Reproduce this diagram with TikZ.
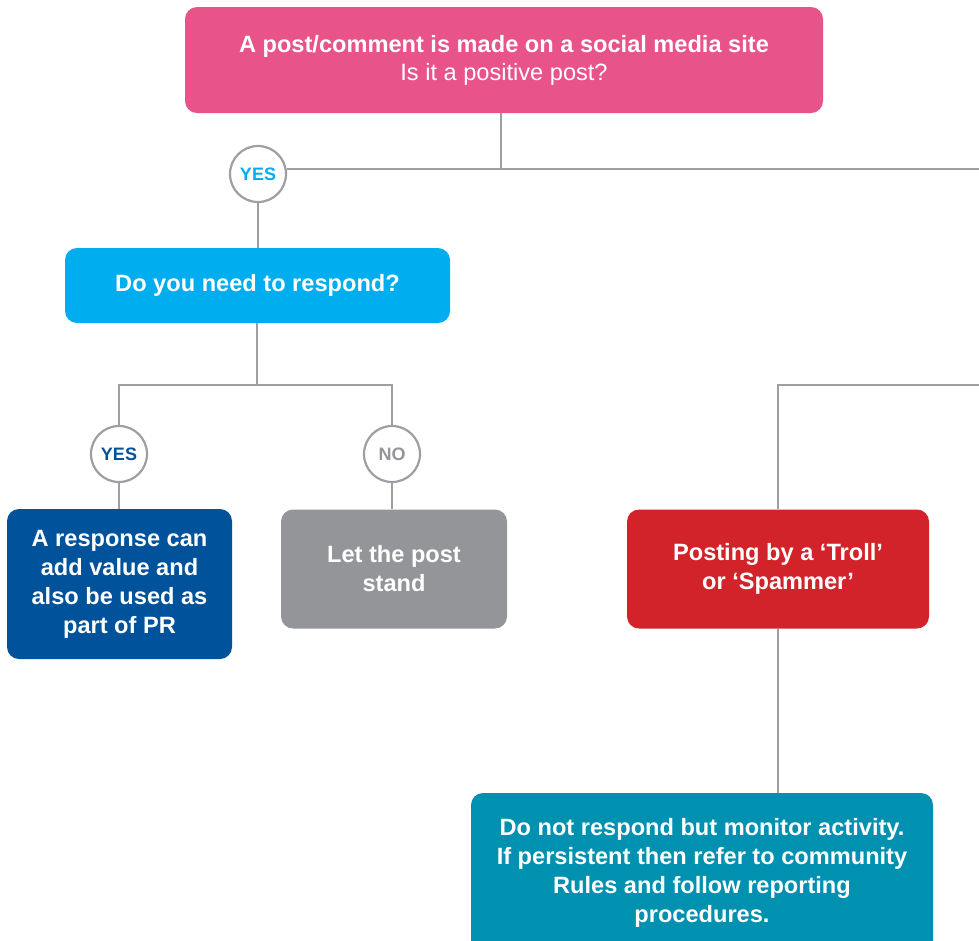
\documentclass[tikz,border=0pt]{standalone}
\usepackage{fontspec}
\setmainfont{Liberation Sans}
\definecolor{cpink}{HTML}{E8538A}
\definecolor{ccyan}{HTML}{00AEEF}
\definecolor{cnavy}{HTML}{00529B}
\definecolor{cgrey}{HTML}{939598}
\definecolor{cred}{HTML}{D2232A}
\definecolor{cteal}{HTML}{0090B0}
\definecolor{cline}{HTML}{9D9FA2}
\begin{document}
\begin{tikzpicture}[x=1pt,y=-1pt,
  box/.style={rounded corners=12pt, text=white, align=center, inner sep=0pt,
    font=\fontsize{23.6}{29}\selectfont\bfseries},
  circ/.style={circle, draw=cline, line width=2.2pt, fill=white, minimum size=56pt, inner sep=0pt,
    font=\fontsize{18}{20}\selectfont\bfseries},
  conn/.style={draw=cline, line width=2.4pt}]
\useasboundingbox (0,0) rectangle (979,940);
\clip (0,0) rectangle (979,940);
% boxes
\node[box, fill=cpink, minimum width=638pt, minimum height=106pt] (top) at (504,60)
  {A post/comment is made on a social media site\\[-1pt]{\mdseries Is it a positive post?}};
\node[box, fill=ccyan, minimum width=385pt, minimum height=75pt] (resp) at (257.5,285.5)
  {Do you need to respond?};
\node[box, fill=cnavy, minimum width=225pt, minimum height=150pt] (add) at (119.5,584)
  {A response can\\add value and\\also be used as\\part of PR};
\node[box, fill=cgrey, minimum width=226pt, minimum height=119pt] (let) at (394,569)
  {Let the post\\stand};
\node[box, fill=cred, minimum width=302pt, minimum height=119pt] (troll) at (778,569)
  {Posting by a ‘Troll’\\or ‘Spammer’};
\node[box, fill=cteal, minimum width=462pt, minimum height=160pt] (mon) at (702,873)
  {Do not respond but monitor activity.\\If persistent then refer to community\\Rules and follow reporting\\procedures.};
% circles
\node[circ, text=ccyan] (y1) at (258,174) {YES};
\node[circ, text=cnavy] (y2) at (119,454) {YES};
\node[circ, text=cgrey] (n2) at (392,454) {NO};
% junctions and free ends
\coordinate (j1) at (501,169);
\coordinate (j2) at (257,385);
\coordinate (r1) at (985,169);
\coordinate (r2) at (985,385);
% connectors
\draw[conn] (j1 |- top.south) -- (j1);
\draw[conn] (y1.east |- j1) -- (r1);
\draw[conn] (y1.south) -- (y1.south |- resp.north);
\draw[conn] (j2 |- resp.south) -- (j2);
\draw[conn] (y2.north) -- (y2.north |- j2) -- (n2.north |- j2) -- (n2.north);
\draw[conn] (y2.south) -- (y2.south |- add.north);
\draw[conn] (n2.south) -- (n2.south |- let.north);
\draw[conn] (r2) -- (troll.north |- r2) -- (troll.north);
\draw[conn] (troll.south) -- (mon.north -| troll.south);
\end{tikzpicture}
\end{document}
